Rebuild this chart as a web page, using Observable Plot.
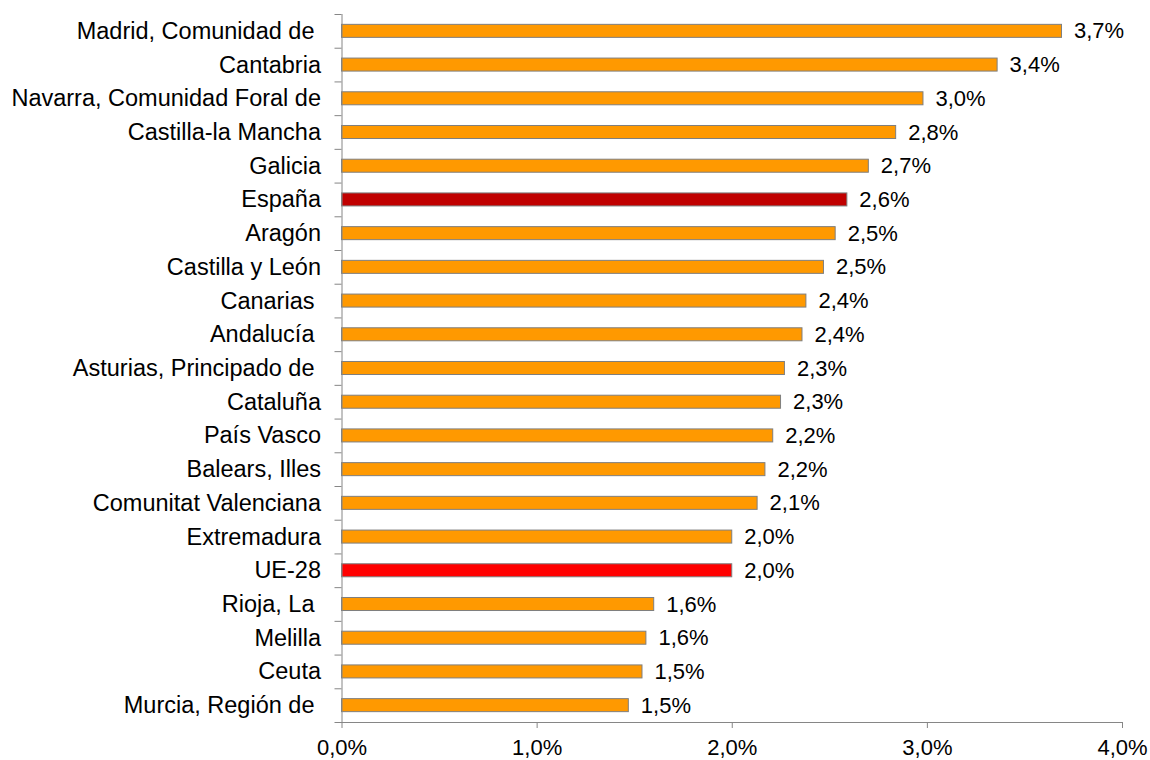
<!DOCTYPE html>
<html><head><meta charset="utf-8">
<script src="https://cdn.jsdelivr.net/npm/d3@7"></script>
<script src="https://cdn.jsdelivr.net/npm/@observablehq/plot@0.6"></script>
<style>
body{margin:0;background:#fff}
svg text{white-space:pre}
</style>
</head><body><div id="chart"></div>
<script>
const regions = ["Madrid, Comunidad de ", "Cantabria", "Navarra, Comunidad Foral de", "Castilla-la Mancha", "Galicia", "España", "Aragón", "Castilla y León", "Canarias ", "Andalucía ", "Asturias, Principado de ", "Cataluña", "País Vasco", "Balears, Illes", "Comunitat Valenciana", "Extremadura", "UE-28", "Rioja, La ", "Melilla", "Ceuta", "Murcia, Región de "];
const values = [3.69, 3.36, 2.98, 2.84, 2.70, 2.59, 2.53, 2.47, 2.38, 2.36, 2.27, 2.25, 2.21, 2.17, 2.13, 2.00, 2.00, 1.60, 1.56, 1.54, 1.47];
const valueLabels = ["3,7%", "3,4%", "3,0%", "2,8%", "2,7%", "2,6%", "2,5%", "2,5%", "2,4%", "2,4%", "2,3%", "2,3%", "2,2%", "2,2%", "2,1%", "2,0%", "2,0%", "1,6%", "1,6%", "1,5%", "1,5%"];
const xTicks = [0, 1, 2, 3, 4];

const colorOf = r => r === "España" ? "#C00000" : r === "UE-28" ? "#FF0000" : "#FF9900";
const data = regions.map((r, i) => ({region: r, value: values[i], label: valueLabels[i]}));

const W = 1150, H = 760, mt = 14, mb = 38, ml = 341.5, mr = 28;
const step = (H - mt - mb) / regions.length;
const axisColor = "#868686";

const chart = Plot.plot({
  width: W, height: H,
  marginTop: mt, marginBottom: mb, marginLeft: ml, marginRight: mr,
  style: {fontFamily: "'Liberation Sans', Arial, sans-serif", fontSize: "22px", color: "#000", background: "#fff"},
  x: {domain: [0, 4], label: null},
  y: {domain: regions, paddingInner: 0.614, paddingOuter: 0.307, round: false, label: null},
  color: {type: "identity"},
  marks: [
    Plot.barX(data, {y: "region", x: "value", fill: d => colorOf(d.region), stroke: "#7f7f7f", strokeWidth: 1}),
    Plot.ruleX([0], {stroke: axisColor}),
    Plot.ruleY(regions, {y: d => d, x1: 0, x2: 0, insetLeft: -7, dy: -step / 2, stroke: axisColor}),
    Plot.ruleY([regions[regions.length - 1]], {y: d => d, x1: 0, x2: 4, insetLeft: -7, dy: step / 2, stroke: axisColor}),
    Plot.text(data, {y: "region", x: "value", text: "label", textAnchor: "start", dx: 12, fontSize: 22, fill: "#000"}),
    Plot.axisY({tickSize: 0, tickPadding: 21, fontSize: 23.5, fill: "#000", label: null}),
    Plot.axisX({ticks: xTicks, tickFormat: d => d.toFixed(1).replace(".", ",") + "%", tickSize: 6, tickPadding: 11, stroke: axisColor, fontSize: 22, fill: "#000", label: null})
  ]
});
document.getElementById("chart").appendChild(chart);
</script>
</body></html>
